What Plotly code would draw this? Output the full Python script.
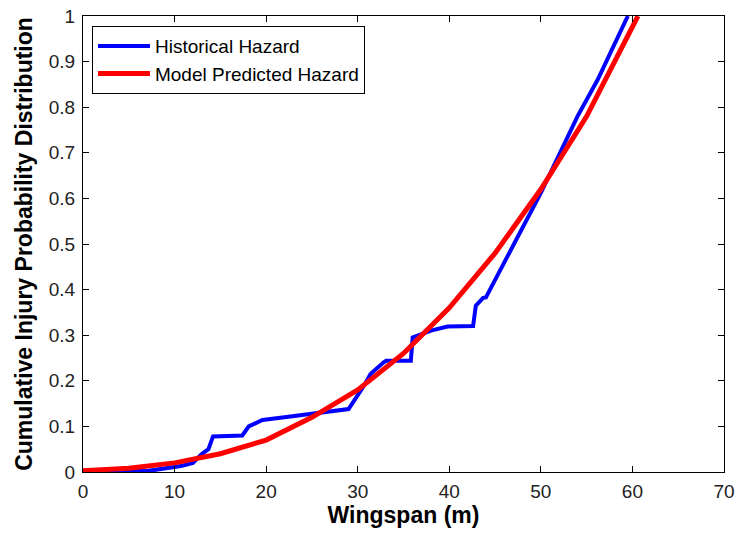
import plotly.graph_objects as go

hist_x = [0, 3, 7, 10.7, 12, 13, 13.7, 14.2, 17.4, 18.1, 19.6, 22, 25.2, 27, 29, 30.7, 31.4, 32.8, 33.1, 35.8, 36, 38, 39.8, 42.6, 42.9, 43.7, 44, 50, 54, 56.2, 59.5]
hist_y = [0.003, 0.003, 0.002, 0.013, 0.02, 0.04, 0.05, 0.078, 0.08, 0.1, 0.114, 0.12, 0.128, 0.132, 0.138, 0.19, 0.215, 0.24, 0.244, 0.244, 0.295, 0.31, 0.319, 0.32, 0.365, 0.382, 0.383, 0.612, 0.78, 0.86, 1.0]

model_x = [0, 5, 10, 15, 20, 25, 30, 35, 40, 45, 50, 55, 60.6]
model_y = [0.003, 0.008, 0.02, 0.04, 0.07, 0.12, 0.18, 0.26, 0.36, 0.48, 0.62, 0.78, 1.0]

x_ticks = [0, 10, 20, 30, 40, 50, 60, 70]
y_ticks = [0, 0.1, 0.2, 0.3, 0.4, 0.5, 0.6, 0.7, 0.8, 0.9, 1]
y_labels = ["0", "0.1", "0.2", "0.3", "0.4", "0.5", "0.6", "0.7", "0.8", "0.9", "1"]

FONT = "Liberation Sans, Arial"

fig = go.Figure()
fig.add_trace(go.Scatter(x=hist_x, y=hist_y, mode="lines", name="Historical Hazard",
                         line=dict(color="#0000FF", width=4)))
fig.add_trace(go.Scatter(x=model_x, y=model_y, mode="lines", name="Model Predicted Hazard",
                         line=dict(color="#FF0000", width=5)))

axis_common = dict(showline=True, linecolor="black", linewidth=1, mirror="ticks",
                   ticks="inside", ticklen=6, tickcolor="black", showgrid=False,
                   zeroline=False, automargin=False, ticklabeloverflow="allow",
                   tickfont=dict(family=FONT, size=19, color="#222"))

fig.update_layout(
    width=736, height=533,
    margin=dict(l=83, r=12, t=16, b=61),
    paper_bgcolor="white", plot_bgcolor="white",
    xaxis=dict(range=[0, 70], tickvals=x_ticks, ticklabelstandoff=2,
               title=dict(text="<b>Wingspan (m)</b>", font=dict(family=FONT, size=23, color="black"), standoff=0),
               **axis_common),
    yaxis=dict(range=[0, 1], tickvals=y_ticks, ticktext=y_labels, ticklabelstandoff=3,
               title=dict(text="<b>Cumulative Injury Probability Distribution</b>", font=dict(family=FONT, size=23, color="black"), standoff=9),
               **axis_common),
    legend=dict(x=0.014, y=0.978, xanchor="left", yanchor="top",
                bgcolor="white", bordercolor="black", borderwidth=1,
                font=dict(family=FONT, size=19, color="black"),
                tracegroupgap=0, itemwidth=52),
    showlegend=True,
)

fig.write_html("out.html", config={"displayModeBar": False},
               post_script="document.body.style.margin='0';document.body.style.overflow='hidden';")
